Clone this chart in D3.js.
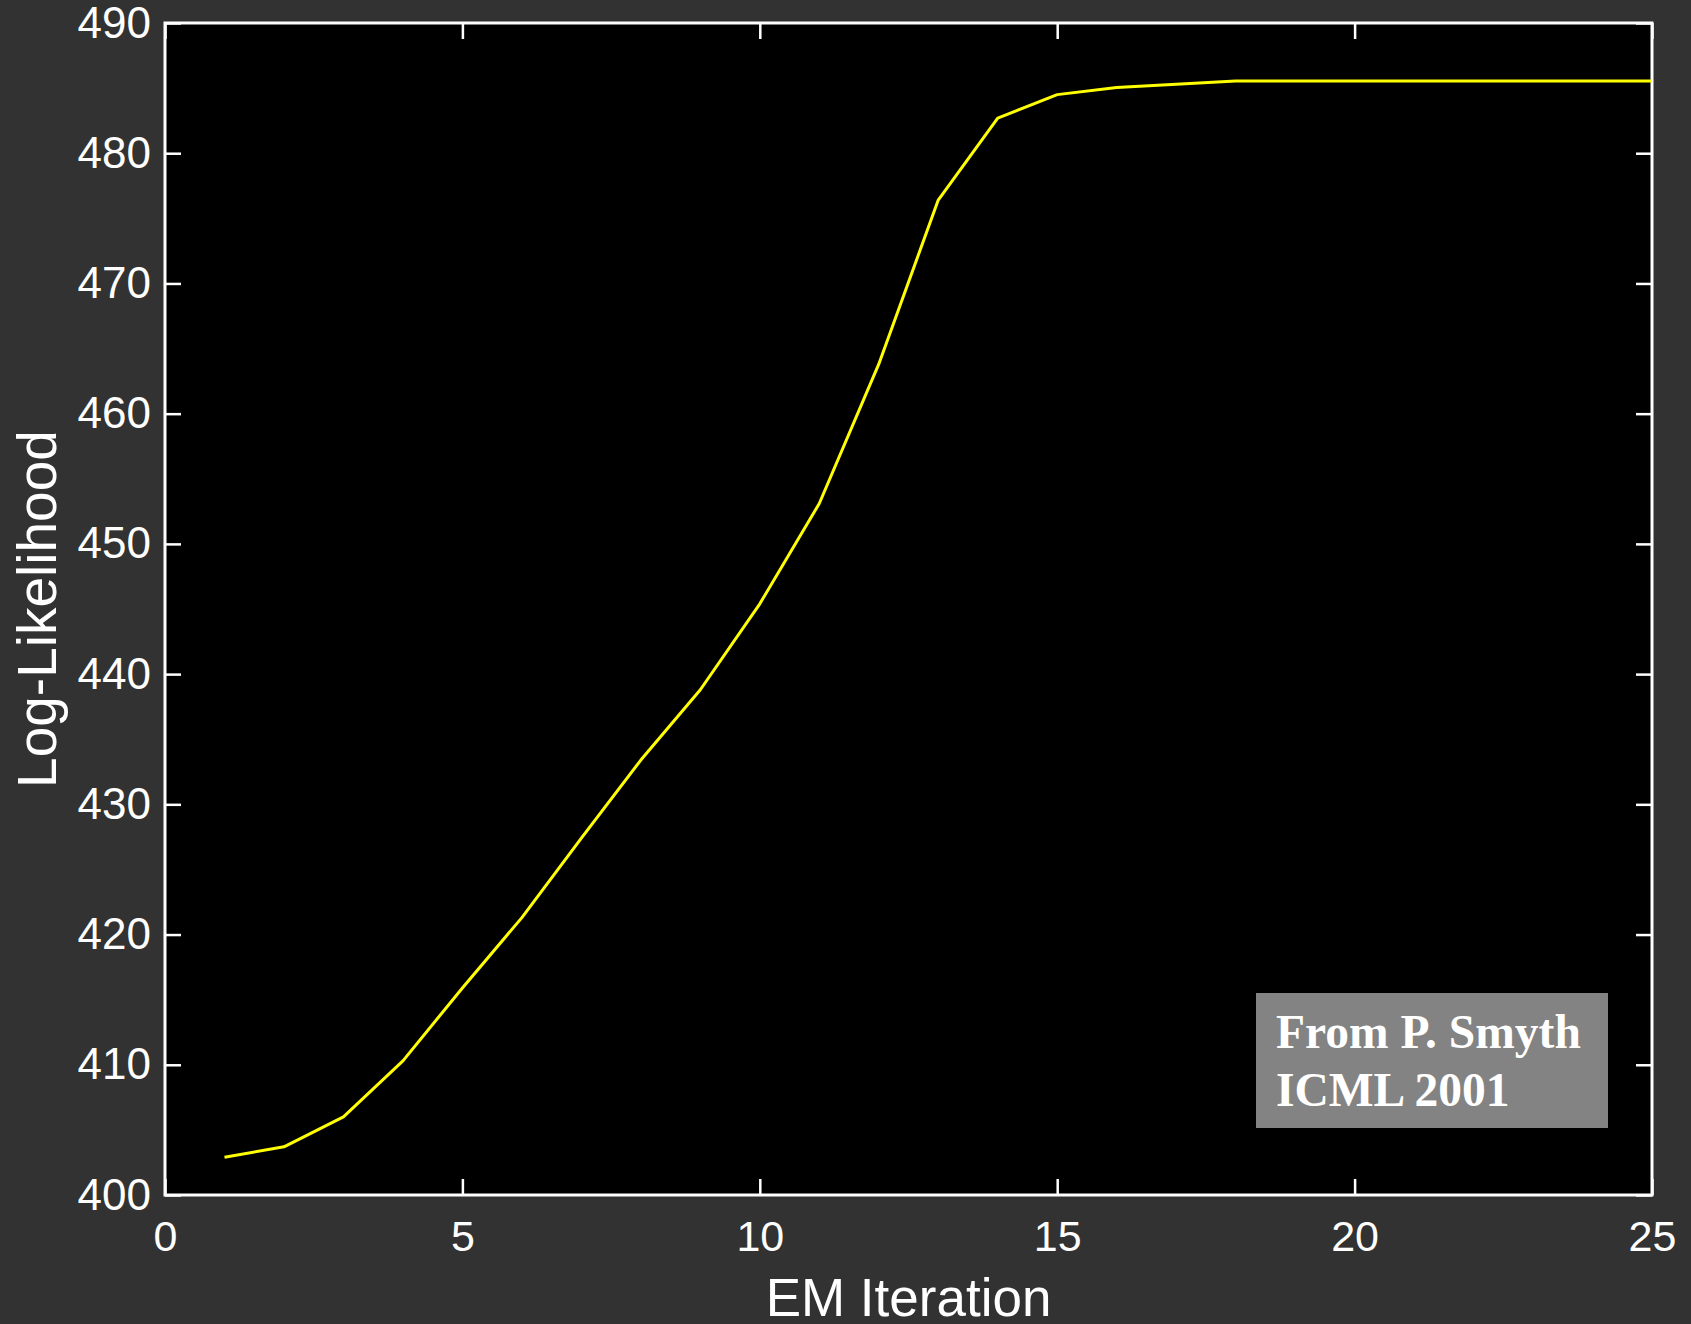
<!DOCTYPE html>
<html>
<head>
<meta charset="utf-8">
<script src="https://cdn.jsdelivr.net/npm/d3@7"></script>
<style>
  html, body { margin: 0; padding: 0; background: #323232; }
  svg { display: block; }
</style>
</head>
<body>
<svg id="chart" width="1691" height="1324"></svg>
<script>
// ---- data ----
const iterations = [1,2,3,4,5,6,7,8,9,10,11,12,13,14,15,16,17,18,19,20,21,22,23,24,25];
const logLikelihood = [402.9,403.7,406.0,410.3,415.9,421.3,427.4,433.4,438.8,445.4,453.1,463.8,476.4,482.7,484.5,485.05,485.3,485.55,485.55,485.55,485.55,485.55,485.55,485.55,485.55];
const xTicks = [0,5,10,15,20,25];
const yTicks = [400,410,420,430,440,450,460,470,480,490];
const xLabel = "EM Iteration";
const yLabel = "Log-Likelihood";
const noteLines = ["From P. Smyth", "ICML 2001"];

// ---- layout ----
const W = 1691, H = 1324;
const m = { left: 165, right: W - 1652, top: 23, bottom: H - 1195 };
const svg = d3.select("#chart");
const pw = W - m.left - m.right, ph = H - m.top - m.bottom;

const x = d3.scaleLinear().domain([0, 25]).range([m.left, m.left + pw]);
const y = d3.scaleLinear().domain([400, 490]).range([m.top + ph, m.top]);

svg.append("rect").attr("x", 0).attr("y", 0).attr("width", W).attr("height", H).attr("fill", "#323232");
svg.append("rect").attr("x", m.left).attr("y", m.top).attr("width", pw).attr("height", ph).attr("fill", "#000");

const font = "'Liberation Sans', Arial, sans-serif";
const tickLen = 16;

function styleAxis(g, showLabels, size) {
  g.select(".domain").remove();
  g.selectAll(".tick line").attr("stroke", "#fff").attr("stroke-width", 2.5);
  g.selectAll(".tick text").attr("fill", "#fff").attr("font-family", font).attr("font-size", size || 42);
  if (!showLabels) g.selectAll(".tick text").remove();
}

// bottom axis (inward ticks)
svg.append("g").attr("transform", `translate(0,${m.top + ph})`)
  .call(d3.axisBottom(x).tickValues(xTicks).tickSize(-tickLen).tickPadding(25).tickFormat(d3.format("d")))
  .call(g => styleAxis(g, true, 43));
// top axis
svg.append("g").attr("transform", `translate(0,${m.top})`)
  .call(d3.axisTop(x).tickValues(xTicks).tickSize(-tickLen))
  .call(g => styleAxis(g, false));
// left axis
svg.append("g").attr("transform", `translate(${m.left},0)`)
  .call(d3.axisLeft(y).tickValues(yTicks).tickSize(-tickLen).tickPadding(14).tickFormat(d3.format("d")))
  .call(g => styleAxis(g, true, 44));
// right axis
svg.append("g").attr("transform", `translate(${m.left + pw},0)`)
  .call(d3.axisRight(y).tickValues(yTicks).tickSize(-tickLen))
  .call(g => styleAxis(g, false));

// frame
svg.append("rect").attr("x", m.left).attr("y", m.top).attr("width", pw).attr("height", ph)
  .attr("fill", "none").attr("stroke", "#fff").attr("stroke-width", 3);

// line
const pts = iterations.map((d, i) => [d, logLikelihood[i]]);
svg.append("path").datum(pts)
  .attr("fill", "none").attr("stroke", "#ffff00").attr("stroke-width", 3)
  .attr("stroke-linejoin", "round")
  .attr("d", d3.line().x(d => x(d[0])).y(d => y(d[1])));

// axis titles
svg.append("text").attr("x", x(12.5)).attr("y", 1316).attr("text-anchor", "middle")
  .attr("fill", "#fff").attr("font-family", font).attr("font-size", 53).text(xLabel);
svg.append("text").attr("transform", `translate(56,${y(445)}) rotate(-90)`).attr("text-anchor", "middle")
  .attr("fill", "#fff").attr("font-family", font).attr("font-size", 55).text(yLabel);

// annotation box
svg.append("rect").attr("x", 1256).attr("y", 993).attr("width", 352).attr("height", 135).attr("fill", "#838383");
noteLines.forEach((t, i) => {
  svg.append("text").attr("x", 1276).attr("y", 1048 + i * 58)
    .attr("fill", "#fff").attr("font-family", "'Liberation Serif', 'Times New Roman', serif")
    .attr("font-weight", "bold").attr("font-size", 47.5).text(t);
});
</script>
</body>
</html>
